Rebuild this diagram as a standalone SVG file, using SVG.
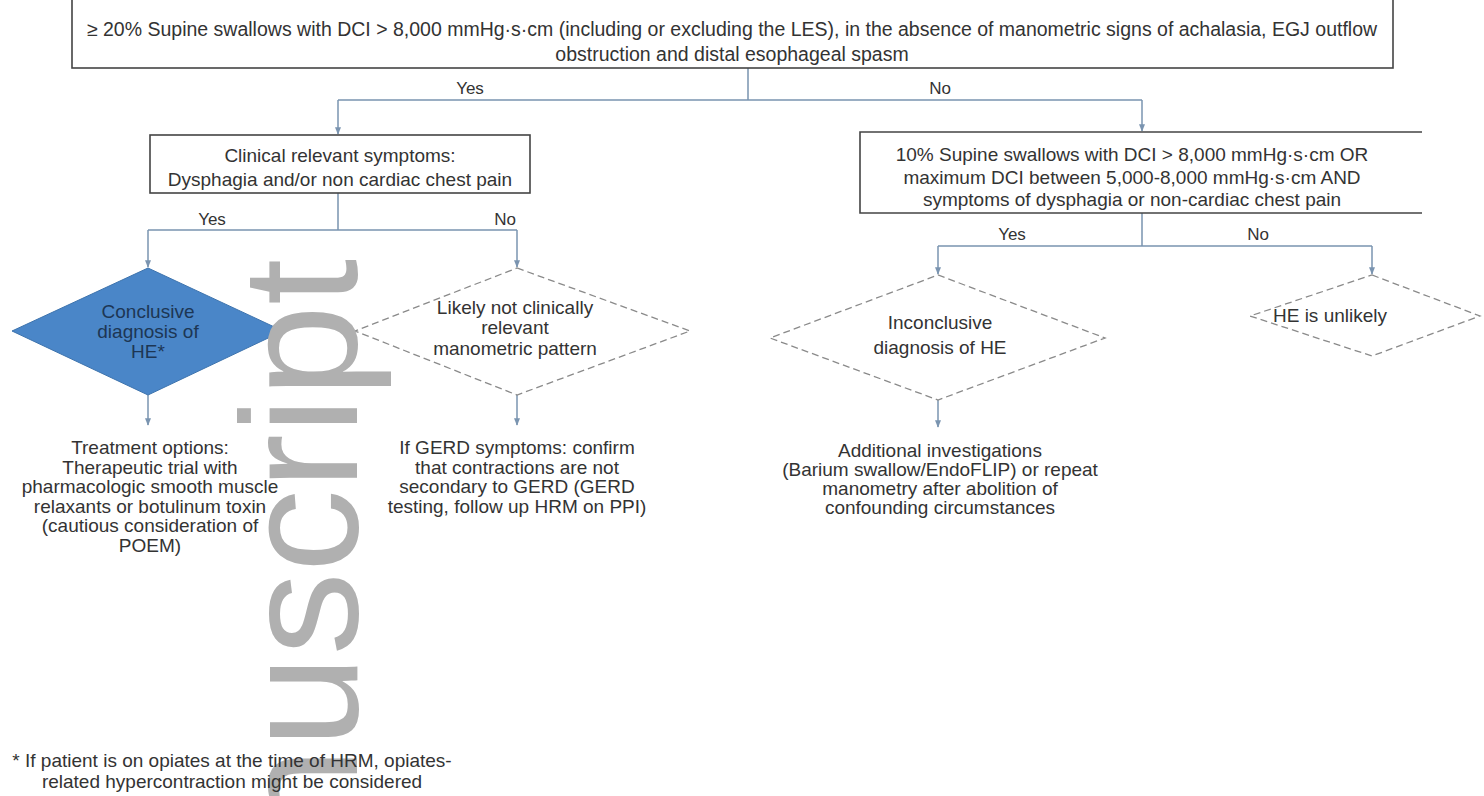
<svg xmlns="http://www.w3.org/2000/svg" width="1484" height="796" viewBox="0 0 1484 796">
<style>
text{font-family:"Liberation Sans",Arial,sans-serif;font-size:19px;fill:#333;text-anchor:middle}
.big{font-size:19.5px}
.box{fill:#fff;stroke:#444;stroke-width:1.6}
.conn{fill:none;stroke:#7a94b0;stroke-width:1.5}
.dia{fill:#fff;stroke:#8a8a8a;stroke-width:1.3;stroke-dasharray:7 4}
.blue{fill:#4a86c8;stroke:#3d73ad;stroke-width:1}
.wm{font-size:166px;fill:#b0b0b0;text-anchor:start}
.lbl{font-size:17px}
</style>
<defs>
<marker id="ah" viewBox="0 0 10 10" refX="9" refY="5" markerWidth="5" markerHeight="5" orient="auto">
<path d="M0,1 L10,5 L0,9 z" fill="#7a94b0"/>
</marker>
</defs>
<rect width="1484" height="796" fill="#fff"/>
<g id="connectors">
<path class="conn" d="M748,68 V100 M338,100 H1142" />
<path class="conn" d="M338,100 V134" marker-end="url(#ah)"/>
<path class="conn" d="M1142,100 V131" marker-end="url(#ah)"/>
<path class="conn" d="M338,193 V230 M148,230 H517"/>
<path class="conn" d="M148,230 V267" marker-end="url(#ah)"/>
<path class="conn" d="M517,230 V267" marker-end="url(#ah)"/>
<path class="conn" d="M148,395 V425" marker-end="url(#ah)"/>
<path class="conn" d="M517,395 V425" marker-end="url(#ah)"/>
<path class="conn" d="M1142,213 V246 M938,246 H1372"/>
<path class="conn" d="M938,246 V274" marker-end="url(#ah)"/>
<path class="conn" d="M1372,246 V274" marker-end="url(#ah)"/>
<path class="conn" d="M938,400 V427" marker-end="url(#ah)"/>
<text class="lbl" x="470" y="94">Yes</text>
<text class="lbl" x="940" y="94">No</text>
<text class="lbl" x="212" y="225">Yes</text>
<text class="lbl" x="505" y="225">No</text>
<text class="lbl" x="1012" y="240">Yes</text>
<text class="lbl" x="1258" y="240">No</text>
</g>
<g id="top">
<rect class="box" x="72" y="-10" width="1321" height="78"/>
<text class="big" x="732" y="36">≥ 20% Supine swallows with DCI &gt; 8,000 mmHg·s·cm (including or excluding the LES), in the absence of manometric signs of achalasia, EGJ outflow</text>
<text class="big" x="732" y="61">obstruction and distal esophageal spasm</text>
</g>
<g id="clinical">
<rect class="box" x="150" y="135" width="380" height="58"/>
<text x="340" y="162">Clinical relevant symptoms:</text>
<text x="340" y="186">Dysphagia and/or non cardiac chest pain</text>
</g>
<g id="conclusive">
<path class="blue" d="M148,268 L283,331 L148,395 L12,331 Z"/>
<text x="148" y="318" style="fill:#1d3654">Conclusive</text>
<text x="148" y="338" style="fill:#1d3654">diagnosis of</text>
<text x="148" y="358" style="fill:#1d3654">HE*</text>
</g>
<g id="likely-not">
<path class="dia" d="M517,268 L690,331 L517,395 L355,331 Z"/>
<text x="515" y="314">Likely not clinically</text>
<text x="515" y="334">relevant</text>
<text x="515" y="355">manometric pattern</text>
</g>
<g id="treatment">
<text x="150" y="454">Treatment options:</text>
<text x="150" y="474">Therapeutic trial with</text>
<text x="150" y="493">pharmacologic smooth muscle</text>
<text x="150" y="513">relaxants or botulinum toxin</text>
<text x="150" y="532">(cautious consideration of</text>
<text x="150" y="552">POEM)</text>
</g>
<g id="gerd">
<text x="517" y="454">If GERD symptoms: confirm</text>
<text x="517" y="474">that contractions are not</text>
<text x="517" y="493">secondary to GERD (GERD</text>
<text x="517" y="513">testing, follow up HRM on PPI)</text>
</g>
<g id="ten-percent">
<path class="box" d="M1422,132 H860 V213 H1422"/>
<text x="1132" y="161">10% Supine swallows with DCI &gt; 8,000 mmHg·s·cm OR</text>
<text x="1132" y="184">maximum DCI between 5,000-8,000 mmHg·s·cm AND</text>
<text x="1132" y="206">symptoms of dysphagia or non-cardiac chest pain</text>
</g>
<g id="inconclusive">
<path class="dia" d="M938,275 L1105,338 L938,400 L770,338 Z"/>
<text x="940" y="329">Inconclusive</text>
<text x="940" y="354">diagnosis of HE</text>
</g>
<g id="unlikely">
<path class="dia" d="M1372,275 L1480,316 L1372,356 L1250,316 Z"/>
<text x="1330" y="322">HE is unlikely</text>
</g>
<g id="additional">
<text x="940" y="457">Additional investigations</text>
<text x="940" y="476">(Barium swallow/EndoFLIP) or repeat</text>
<text x="940" y="495">manometry after abolition of</text>
<text x="940" y="514">confounding circumstances</text>
</g>
<text class="wm" transform="translate(357,840) rotate(-90)">nuscript</text>
<g id="footnote">
<text x="232" y="767">* If patient is on opiates at the time of HRM, opiates-</text>
<text x="232" y="788">related hypercontraction might be considered</text>
</g>
</svg>
